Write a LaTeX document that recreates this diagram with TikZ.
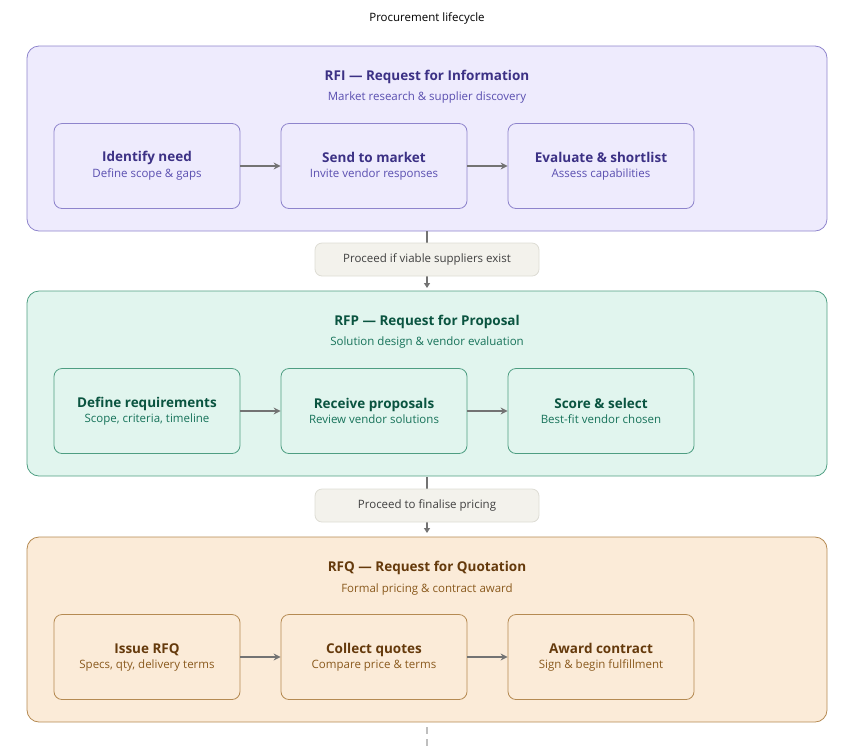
\documentclass[tikz,border=0pt]{standalone}
\usepackage{fontspec}
\setmainfont{Open Sans}
\usetikzlibrary{arrows.meta,positioning}
\definecolor{rfiFill}{HTML}{EEEBFD}\definecolor{rfiLine}{HTML}{8E84CC}\definecolor{rfiText}{HTML}{3C3185}\definecolor{rfiSub}{HTML}{5A4FB0}
\definecolor{rfpFill}{HTML}{E1F5EE}\definecolor{rfpLine}{HTML}{4E9E82}\definecolor{rfpText}{HTML}{0A5440}\definecolor{rfpSub}{HTML}{17735A}
\definecolor{rfqFill}{HTML}{FBEBD8}\definecolor{rfqLine}{HTML}{B58A52}\definecolor{rfqText}{HTML}{653A0C}\definecolor{rfqSub}{HTML}{8A5A1E}
\definecolor{noteFill}{HTML}{F3F2EC}\definecolor{noteLine}{HTML}{DDDCD4}
\begin{document}
\begin{tikzpicture}[x=1pt,y=-1pt,
    panel/.style={rounded corners=12pt, line width=0.8pt},
    stagebox/.style={rounded corners=8pt, line width=0.8pt, minimum width=186pt, minimum height=85pt, align=center},
    note/.style={rounded corners=7pt, fill=noteFill, draw=noteLine, line width=0.8pt, minimum width=224pt, minimum height=33pt, font=\fontsize{11.5}{13}\selectfont, text=black!75},
    flow/.style={-{Stealth[length=7pt,width=7pt]}, line width=1.2pt, draw=black!55},
    link/.style={-{Triangle[length=5pt,width=6pt]}, line width=1.2pt, draw=black!55}]
  \useasboundingbox (0,0) rectangle (850,748);
  \node (top) at (427,18) {\fontsize{11.5}{13}\selectfont Procurement lifecycle};

  % three stages
  \foreach \y/\c/\abbr/\name/\desc/\ta/\sa/\tb/\sb/\tc/\sc/\n in {
      46/rfi/RFI/Request for Information/Market research \& supplier discovery/Identify need/Define scope \& gaps/Send to market/Invite vendor responses/Evaluate \& shortlist/Assess capabilities/a,
      291/rfp/RFP/Request for Proposal/Solution design \& vendor evaluation/Define requirements/{Scope, criteria, timeline}/Receive proposals/Review vendor solutions/Score \& select/Best-fit vendor chosen/b,
      537/rfq/RFQ/Request for Quotation/Formal pricing \& contract award/Issue RFQ/{Specs, qty, delivery terms}/Collect quotes/Compare price \& terms/Award contract/Sign \& begin fulfillment/c} {
    \draw[panel, fill=\c Fill, draw=\c Line] (27,\y) rectangle (827,\y+185);
    \node[text=\c Text, font=\fontsize{13.5}{16}\selectfont\bfseries] (\n title) at (427,\y+31) {\abbr{} — \name};
    \node[text=\c Sub, font=\fontsize{11.5}{13}\selectfont] (\n desc) at (427,\y+52) {\desc};
    \node[stagebox, fill=\c Fill, draw=\c Line] (\n1) at (147,\y+120)
      {{\color{\c Text}\fontsize{13.5}{16}\selectfont\bfseries \ta}\\[3pt]{\color{\c Sub}\fontsize{11.5}{13}\selectfont \sa}};
    \node[stagebox, fill=\c Fill, draw=\c Line] (\n2) at (374,\y+120)
      {{\color{\c Text}\fontsize{13.5}{16}\selectfont\bfseries \tb}\\[3pt]{\color{\c Sub}\fontsize{11.5}{13}\selectfont \sb}};
    \node[stagebox, fill=\c Fill, draw=\c Line] (\n3) at (601,\y+120)
      {{\color{\c Text}\fontsize{13.5}{16}\selectfont\bfseries \tc}\\[3pt]{\color{\c Sub}\fontsize{11.5}{13}\selectfont \sc}};
    \draw[flow] (\n1) -- (\n2);
    \draw[flow] (\n2) -- (\n3);
  }

  % hand-over between stages
  \coordinate (outa) at (427,231);
  \coordinate (ina) at (427,288);
  \coordinate (outb) at (427,477);
  \coordinate (inb) at (427,533);
  \coordinate (outc) at (427,727);
  \coordinate (endc) at (427,748);
  \draw[link] (outa) -- (ina);
  \draw[link] (outb) -- (inb);
  \node[note] (noteab) at (427,259.5) {Proceed if viable suppliers exist};
  \node[note] (notebc) at (427,505.5) {Proceed to finalise pricing};
  \draw[black!25, line width=1.2pt, dash pattern=on 7pt off 5pt] (outc) -- (endc);
\end{tikzpicture}
\end{document}
